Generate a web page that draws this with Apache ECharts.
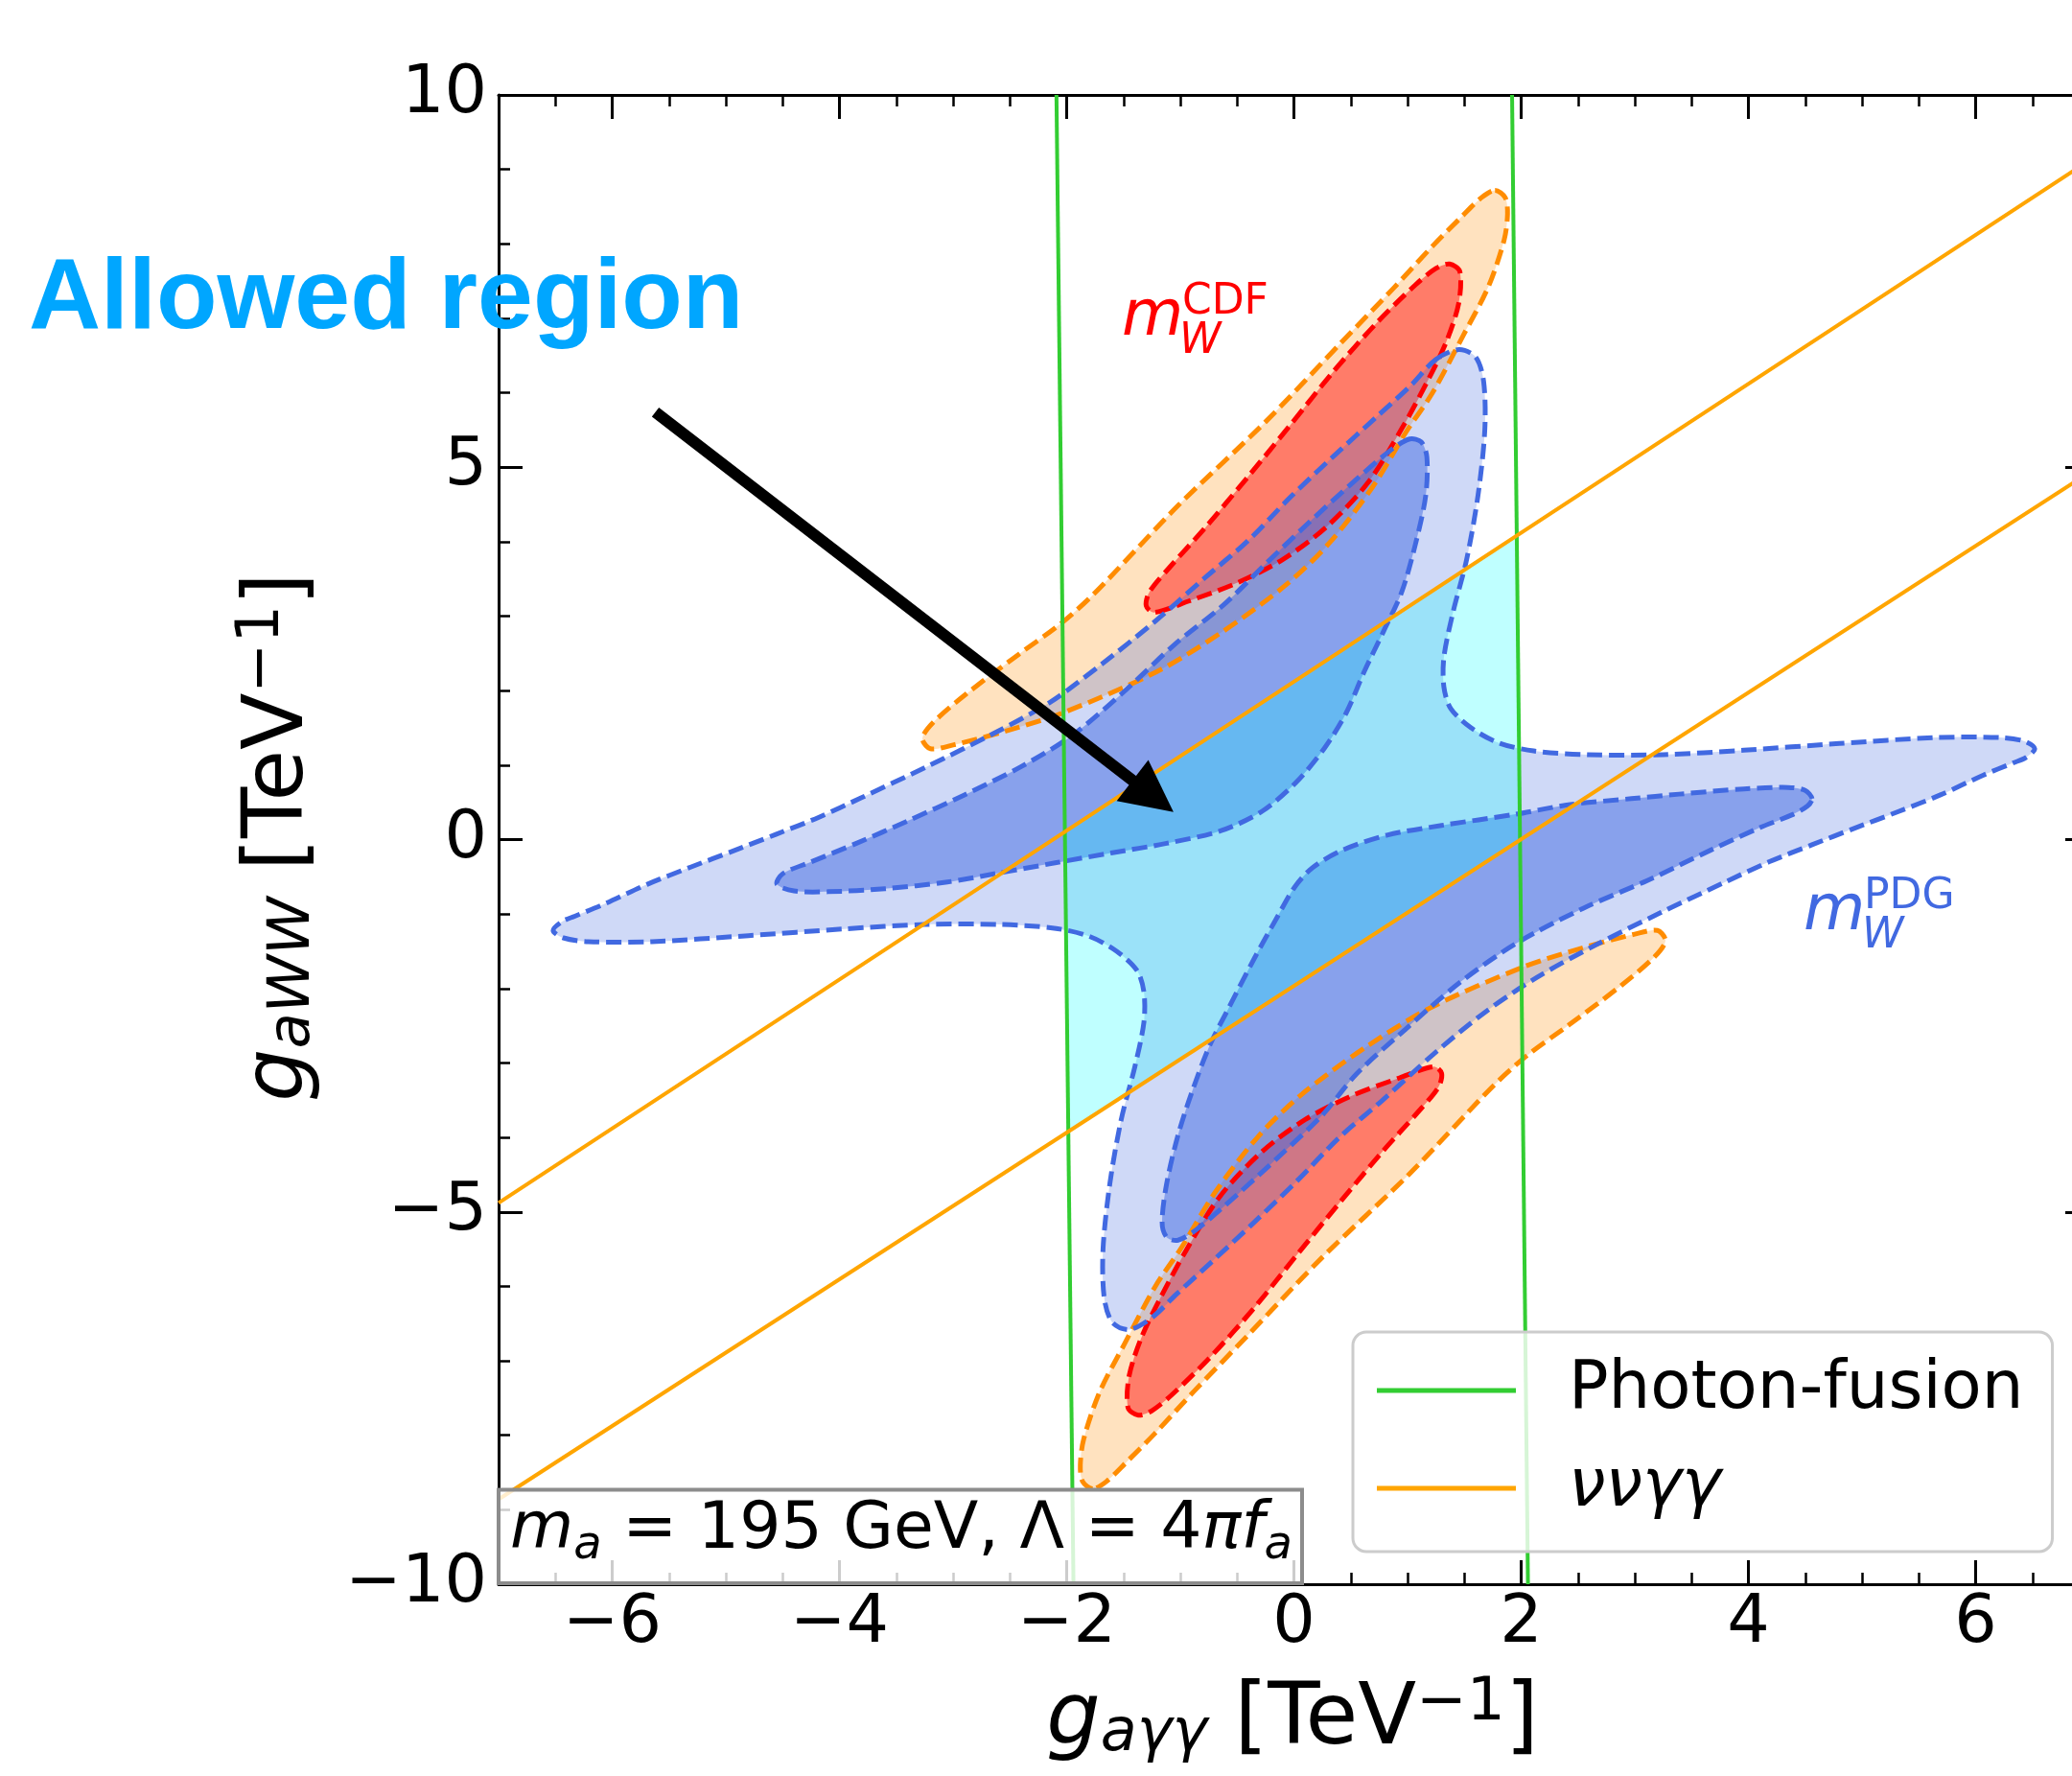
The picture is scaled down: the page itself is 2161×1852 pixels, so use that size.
<!DOCTYPE html>
<html><head><meta charset="utf-8">
<script src="https://cdn.jsdelivr.net/npm/echarts@6/dist/echarts.min.js"></script>
<style>html,body{margin:0;padding:0;background:#fff}#c{width:2161px;height:1852px}</style>
</head><body><div id="c"></div>
<script>
// ---------- data ----------
const X_TICKS = [-6, -4, -2, 0, 2, 4, 6];
const X_MINOR_TICKS = [-6.5,-5.5,-5,-4.5,-3.5,-3,-2.5,-1.5,-1,-0.5,0.5,1,1.5,2.5,3,3.5,4.5,5,5.5,6.5];
const X_RANGE = [-7, 7];
const Y_RANGE = [-10, 10];
const Y_STEP = 5;

const PHOTON_FUSION_LEFT = [[-2.09, 10], [-1.94, -10]];
const PHOTON_FUSION_RIGHT = [[1.92, 10], [2.06, -10]];
const NUNU_UPPER = [[-7, -4.88], [7, 9.12]];
const NUNU_LOWER = [[-7, -8.86], [7, 4.93]];

const ALLOWED_REGION = [[-2.016, 0.104], [1.961, 4.081], [1.990, 0.0], [-1.986, -3.921]];

const CDF_OUTER_UPPER = [[1.77,8.72],[1.86,8.62],[1.88,8.40],[1.85,8.05],[1.71,7.42],[1.49,6.77],[1.22,6.00],[0.99,5.48],[0.69,4.73],[0.31,3.98],[-0.07,3.42],[-0.63,2.79],[-1.20,2.26],[-2.02,1.71],[-2.53,1.46],[-3.00,1.27],[-3.20,1.22],[-3.27,1.36],[-3.17,1.58],[-2.88,1.96],[-2.42,2.49],[-2.06,2.89],[-1.76,3.30],[-1.01,4.50],[-0.25,5.61],[0.42,6.68],[0.88,7.41],[1.22,7.97],[1.48,8.37],[1.65,8.62]];
const CDF_OUTER_LOWER = [[-1.77,-8.72],[-1.86,-8.62],[-1.88,-8.40],[-1.85,-8.05],[-1.71,-7.42],[-1.49,-6.77],[-1.22,-6.00],[-0.99,-5.48],[-0.69,-4.73],[-0.31,-3.98],[0.07,-3.42],[0.63,-2.79],[1.20,-2.26],[2.02,-1.71],[2.53,-1.46],[3.00,-1.27],[3.20,-1.22],[3.27,-1.36],[3.17,-1.58],[2.88,-1.96],[2.42,-2.49],[2.06,-2.89],[1.76,-3.30],[1.01,-4.50],[0.25,-5.61],[-0.42,-6.68],[-0.88,-7.41],[-1.22,-7.97],[-1.48,-8.37],[-1.65,-8.62]];
const CDF_INNER_UPPER = [[1.37,7.73],[1.46,7.63],[1.45,7.20],[1.34,6.68],[1.18,6.17],[0.95,5.52],[0.65,4.79],[0.28,4.19],[-0.10,3.76],[-0.48,3.46],[-0.93,3.20],[-1.23,3.05],[-1.30,3.14],[-1.27,3.33],[-1.08,3.68],[-0.78,4.19],[-0.40,4.88],[-0.03,5.57],[0.35,6.29],[0.73,6.94],[1.07,7.45],[1.25,7.67]];
const CDF_INNER_LOWER = [[-1.37,-7.73],[-1.46,-7.63],[-1.45,-7.20],[-1.34,-6.68],[-1.18,-6.17],[-0.95,-5.52],[-0.65,-4.79],[-0.28,-4.19],[0.10,-3.76],[0.48,-3.46],[0.93,-3.20],[1.23,-3.05],[1.30,-3.14],[1.27,-3.33],[1.08,-3.68],[0.78,-4.19],[0.40,-4.88],[0.03,-5.57],[-0.35,-6.29],[-0.73,-6.94],[-1.07,-7.45],[-1.25,-7.67]];

const PDG_OUTER = [[1.25,6.45],[1.45,6.58],[1.60,6.48],[1.67,6.15],[1.68,5.50],[1.62,4.62],[1.52,3.76],[1.40,3.05],[1.32,2.45],[1.32,2.05],[1.38,1.76],[1.56,1.50],[1.80,1.30],[2.11,1.19],[2.59,1.14],[3.25,1.14],[3.96,1.20],[4.80,1.29],[5.65,1.37],[6.21,1.37],[6.43,1.32],[6.52,1.22],[6.44,1.10],
 [6.33,1.03],[6.06,0.86],[5.69,0.60],[5.31,0.37],[4.93,0.15],[4.56,-0.07],[4.18,-0.30],[3.81,-0.56],[3.23,-0.98],[2.65,-1.42],[2.14,-1.85],[1.68,-2.32],[1.23,-2.88],[0.78,-3.50],[0.40,-4.00],[0.03,-4.58],[-0.35,-5.14],[-0.73,-5.68],[-1.03,-6.10],[-1.25,-6.42],
 [-1.45,-6.58],[-1.60,-6.48],[-1.67,-6.15],[-1.68,-5.50],[-1.62,-4.62],[-1.52,-3.76],[-1.40,-3.05],[-1.32,-2.45],[-1.32,-2.05],[-1.38,-1.76],[-1.56,-1.50],[-1.80,-1.30],[-2.11,-1.19],[-2.59,-1.14],[-3.25,-1.14],[-3.96,-1.20],[-4.80,-1.29],[-5.65,-1.37],[-6.21,-1.37],[-6.43,-1.32],[-6.52,-1.22],[-6.44,-1.10],
 [-6.33,-1.03],[-6.06,-0.86],[-5.69,-0.60],[-5.31,-0.37],[-4.93,-0.15],[-4.56,0.07],[-4.18,0.30],[-3.81,0.56],[-3.23,0.98],[-2.65,1.42],[-2.14,1.85],[-1.68,2.37],[-1.23,2.92],[-0.78,3.52],[-0.40,4.02],[-0.03,4.60],[0.35,5.15],[0.73,5.68],[1.03,6.10]];
const PDG_INNER_UPPER = [[1.02,5.38],[1.12,5.34],[1.17,5.14],[1.16,4.62],[1.07,3.97],[0.95,3.33],[0.79,2.80],[0.62,2.26],[0.46,1.70],[0.27,1.23],[0.02,0.77],[-0.28,0.38],[-0.64,0.12],[-1.12,-0.05],[-1.61,-0.18],[-2.09,-0.31],[-2.60,-0.45],[-3.05,-0.57],[-3.60,-0.66],[-4.10,-0.70],[-4.40,-0.69],[-4.55,-0.60],[-4.50,-0.46],[-4.25,-0.30],[-3.85,-0.05],[-3.40,0.25],[-2.90,0.60],[-2.40,0.98],[-1.95,1.40],[-1.50,1.98],[-1.05,2.62],[-0.62,3.15],[-0.25,3.70],[0.12,4.24],[0.50,4.77],[0.86,5.24]];
const PDG_INNER_LOWER = [[4.56,0.55],[4.50,0.66],[4.35,0.70],[3.96,0.68],[3.39,0.61],[2.97,0.55],[2.43,0.47],[1.95,0.34],[1.30,0.19],[0.82,0.06],[0.43,-0.14],[0.17,-0.37],[0.01,-0.63],[-0.15,-1.05],[-0.35,-1.60],[-0.57,-2.25],[-0.74,-2.76],[-0.90,-3.40],[-1.02,-3.97],[-1.12,-4.62],[-1.16,-5.14],[-1.12,-5.34],[-1.02,-5.38],[-0.86,-5.24],[-0.50,-4.77],[-0.12,-4.24],[0.25,-3.70],[0.55,-3.15],[0.98,-2.55],[1.46,-1.92],[1.95,-1.40],[2.55,-0.92],[3.11,-0.55],[3.67,-0.14],[4.10,0.16],[4.38,0.33],[4.52,0.45]];

const ARROW_TAIL = [-5.62, 5.74];
const ARROW_HEAD = [-1.06, 0.37];

const LEGEND_NAMES = ['Photon-fusion', 'ννγγ'];

// ---------- helpers ----------
const FONT = 'DejaVu Sans';
const minusFmt = v => (v < 0 ? '\u2212' + Math.abs(v) : String(v));

function polyFill(pts, fill, z, smooth) {
  return { type: 'custom', silent: true, clip: true, z: z, animation: false,
    data: [pts[0]],
    renderItem: (params, api) => ({ type: 'polygon',
      shape: { points: pts.map(p => api.coord(p)), smooth: smooth === undefined ? 0.3 : smooth },
      style: { fill: fill, stroke: null, lineWidth: 0 } }) };
}
function polyStroke(pts, stroke, z) {
  return { type: 'custom', silent: true, clip: true, z: z, animation: false,
    data: [pts[0]],
    renderItem: (params, api) => ({ type: 'polygon',
      shape: { points: pts.map(p => api.coord(p)), smooth: 0.3 },
      style: { fill: 'none', stroke: stroke, lineWidth: 5, lineDash: [16, 7] } }) };
}
function lineSeries(name, pts, color) {
  return { type: 'line', name: name, data: pts, showSymbol: false, symbol: 'none', z: 8,
    animation: false, silent: true, lineStyle: { color: color, width: 4 }, itemStyle: { color: color } };
}

const LINE = { show: true, onZero: false, lineStyle: { color: '#000', width: 3 } };
const NOLINE = { show: false, onZero: false };

function xAx(pos, major, withLabel) {
  return { type: 'value', min: X_RANGE[0], max: X_RANGE[1], position: pos, splitLine: { show: false },
    axisLine: major ? LINE : NOLINE,
    axisTick: { show: true, inside: true, length: major ? 25 : 12, customValues: major ? X_TICKS : X_MINOR_TICKS,
      lineStyle: { color: '#000', width: major ? 3 : 2.5 } },
    axisLabel: withLabel ? { show: true, customValues: X_TICKS, formatter: minusFmt, fontSize: 70, fontFamily: FONT, color: '#000', margin: 7 } : { show: false } };
}
function yAx(pos, withLabel) {
  return { type: 'value', min: Y_RANGE[0], max: Y_RANGE[1], interval: Y_STEP, position: pos, splitLine: { show: false },
    axisLine: LINE,
    axisTick: { show: true, inside: true, length: 25, lineStyle: { color: '#000', width: 3 } },
    minorTick: { show: true, splitNumber: 5, length: 12, lineStyle: { color: '#000', width: 2.5 } },
    axisLabel: withLabel ? { formatter: minusFmt, fontSize: 70, fontFamily: FONT, color: '#000', margin: 12 } : { show: false } };
}

const option = {
  animation: false,
  backgroundColor: '#fff',
  grid: { left: 520, top: 99, width: 1659, height: 1553, containLabel: false, outerBoundsMode: 'none' },
  xAxis: [ xAx('bottom', true, true), xAx('bottom', false, false), xAx('top', true, false), xAx('top', false, false) ],
  yAxis: [ yAx('left', true), yAx('right', false) ],
  legend: {
    data: LEGEND_NAMES, left: 1411, top: 1389, orient: 'vertical', itemGap: 22,
    itemWidth: 145, itemHeight: 5, icon: 'rect', selectedMode: false, z: 20,
    backgroundColor: 'rgba(255,255,255,0.8)', borderColor: '#cccccc', borderWidth: 3, borderRadius: 14,
    padding: [21, 30, 26, 25],
    formatter: name => (name === 'ννγγ' ? '{it|' + name + '}' : name),
    textStyle: { fontSize: 69, fontFamily: FONT, color: '#000', lineHeight: 80, padding: [0, 0, 0, 50],
      rich: { it: { fontSize: 69, fontFamily: FONT, fontStyle: 'italic', color: '#000', lineHeight: 80 } } }
  },
  series: [
    polyFill(CDF_OUTER_UPPER, 'rgba(255,140,0,0.25)', 1),
    polyFill(CDF_OUTER_LOWER, 'rgba(255,140,0,0.25)', 1),
    polyFill(CDF_INNER_UPPER, 'rgba(255,0,0,0.45)', 2),
    polyFill(CDF_INNER_LOWER, 'rgba(255,0,0,0.45)', 2),
    polyFill(PDG_OUTER, 'rgba(65,105,225,0.25)', 3),
    polyFill(PDG_INNER_UPPER, 'rgba(65,105,225,0.5)', 4),
    polyFill(PDG_INNER_LOWER, 'rgba(65,105,225,0.5)', 4),
    polyFill(ALLOWED_REGION, 'rgba(0,255,255,0.25)', 5, 0),
    polyStroke(CDF_OUTER_UPPER, '#ff8c00', 6),
    polyStroke(CDF_OUTER_LOWER, '#ff8c00', 6),
    polyStroke(CDF_INNER_UPPER, '#ff0000', 6),
    polyStroke(CDF_INNER_LOWER, '#ff0000', 6),
    polyStroke(PDG_OUTER, '#4169e1', 7),
    polyStroke(PDG_INNER_UPPER, '#4169e1', 7),
    polyStroke(PDG_INNER_LOWER, '#4169e1', 7),
    lineSeries('Photon-fusion', PHOTON_FUSION_LEFT, '#32cd32'),
    lineSeries('Photon-fusion', PHOTON_FUSION_RIGHT, '#32cd32'),
    lineSeries('ννγγ', NUNU_UPPER, '#ffa500'),
    lineSeries('ννγγ', NUNU_LOWER, '#ffa500'),
    { type: 'custom', silent: true, clip: false, z: 9, animation: false,
      data: [ARROW_TAIL],
      renderItem: (params, api) => {
        const a = api.coord(ARROW_TAIL), b = api.coord(ARROW_HEAD);
        const dx = b[0] - a[0], dy = b[1] - a[1], L = Math.hypot(dx, dy);
        const ux = dx / L, uy = dy / L, hl = 54, hw = 27;
        const bx = b[0] - ux * hl, by = b[1] - uy * hl;
        return { type: 'group', children: [
          { type: 'line', shape: { x1: a[0], y1: a[1], x2: bx + ux * 2, y2: by + uy * 2 }, style: { stroke: '#000', lineWidth: 12 } },
          { type: 'polygon', shape: { points: [[b[0], b[1]], [bx - uy * hw, by + ux * hw], [bx + uy * hw, by - ux * hw]] }, style: { fill: '#000' } }
        ] };
      } }
  ],
  graphic: [
    { type: 'text', x: 30, y: 313, z: 100, style: { text: 'Allowed region', fill: '#00a6ff', fontSize: 104, fontWeight: 'bold', fontFamily: 'Liberation Sans', align: 'left', verticalAlign: 'middle' } },
    { type: 'text', x: 1170, y: 332, z: 100, style: { text: 'm', fill: '#ff0000', fontSize: 66, fontStyle: 'italic', fontFamily: FONT, align: 'left', verticalAlign: 'middle' } },
    { type: 'text', x: 1233, y: 316, z: 100, style: { text: 'CDF', fill: '#ff0000', fontSize: 44, fontFamily: FONT, align: 'left', verticalAlign: 'middle' } },
    { type: 'text', x: 1230, y: 357, z: 100, style: { text: 'W', fill: '#ff0000', fontSize: 44, fontStyle: 'italic', fontFamily: FONT, align: 'left', verticalAlign: 'middle' } },
    { type: 'text', x: 1881, y: 952, z: 100, style: { text: 'm', fill: '#4169e1', fontSize: 66, fontStyle: 'italic', fontFamily: FONT, align: 'left', verticalAlign: 'middle' } },
    { type: 'text', x: 1944, y: 936, z: 100, style: { text: 'PDG', fill: '#4169e1', fontSize: 44, fontFamily: FONT, align: 'left', verticalAlign: 'middle' } },
    { type: 'text', x: 1942, y: 977, z: 100, style: { text: 'W', fill: '#4169e1', fontSize: 44, fontStyle: 'italic', fontFamily: FONT, align: 'left', verticalAlign: 'middle' } },
    { type: 'rect', z: 100, shape: { x: 520, y: 1553.5, width: 838, height: 97.5 }, style: { fill: 'rgba(255,255,255,0.8)', stroke: '#8c8c8c', lineWidth: 4 } },
    { type: 'text', x: 532, y: 1596.5, z: 101, style: {
        text: '{i|m}{s|a}{n| = 195 GeV, Λ = 4}{i|πf}{s|a}', align: 'left', verticalAlign: 'middle',
        rich: {
          i: { fontSize: 68, fontStyle: 'italic', fontFamily: FONT, fill: '#000', lineHeight: 80 },
          n: { fontSize: 68, fontFamily: FONT, fill: '#000', lineHeight: 80 },
          s: { fontSize: 48, fontStyle: 'italic', fontFamily: FONT, fill: '#000', lineHeight: 48, verticalAlign: 'bottom' }
        } } },
    { type: 'text', x: 1348, y: 1795, z: 100, style: {
        text: '{g|g}{s|aγγ}{n| [TeV}{p|−1}{n|]}', align: 'center', verticalAlign: 'middle',
        rich: {
          g: { fontSize: 89, fontStyle: 'italic', fontFamily: FONT, fill: '#000', lineHeight: 100 },
          n: { fontSize: 89, fontFamily: FONT, fill: '#000', lineHeight: 100 },
          s: { fontSize: 62, fontStyle: 'italic', fontFamily: FONT, fill: '#000', lineHeight: 62, padding: [28, 0, 0, 0] },
          p: { fontSize: 63, fontFamily: FONT, fill: '#000', lineHeight: 63, padding: [0, 0, 36, 0] }
        } } },
    { type: 'text', x: 292, y: 873, rotation: Math.PI / 2, z: 100, style: {
        text: '{g|g}{s|aWW}{n| [TeV}{p|−1}{n|]}', align: 'center', verticalAlign: 'middle',
        rich: {
          g: { fontSize: 87, fontStyle: 'italic', fontFamily: FONT, fill: '#000', lineHeight: 100 },
          n: { fontSize: 87, fontFamily: FONT, fill: '#000', lineHeight: 100 },
          s: { fontSize: 61, fontStyle: 'italic', fontFamily: FONT, fill: '#000', lineHeight: 61, padding: [28, 0, 0, 0] },
          p: { fontSize: 62, fontFamily: FONT, fill: '#000', lineHeight: 62, padding: [0, 0, 36, 0] }
        } } }
  ]
};

const chart = echarts.init(document.getElementById('c'), null, { renderer: 'canvas', width: 2161, height: 1852 });
chart.setOption(option);
</script>
</body></html>
